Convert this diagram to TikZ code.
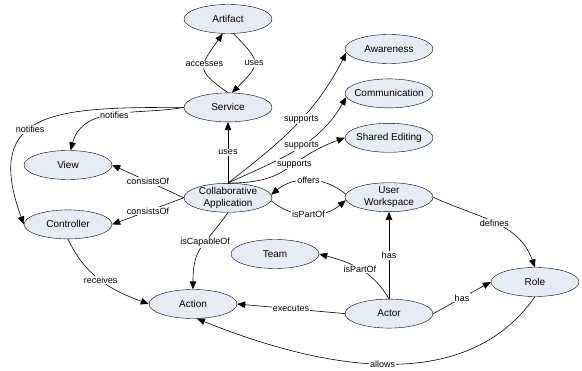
\documentclass[tikz,border=0pt]{standalone}
\usepackage{fontspec}
\setmainfont{Liberation Sans}
\usepackage{tikz}
\usetikzlibrary{arrows.meta, positioning, shapes.geometric}
\definecolor{conceptfill}{RGB}{230,236,247}

\begin{document}
\begin{tikzpicture}[
    x=1pt, y=1pt,
    concept/.style={draw, ellipse, fill=conceptfill, minimum width=88pt, minimum height=29pt, inner xsep=-4pt, inner ysep=-1pt, align=center, font=\fontsize{10}{12}\selectfont},
    rel/.style={fill=white, inner sep=1pt, font=\fontsize{9}{10}\selectfont},
    arrow/.style={-{Triangle[length=8pt, width=6.5pt]}, line width=0.6pt}
]
    \useasboundingbox (0,0) rectangle (582,-371);

    \node[concept] (artifact) at (228,-19) {Artifact};
    \node[concept, below=59pt of artifact] (service) {Service};
    \node[concept, below=61pt of service] (collab) {Collaborative\\Application};
    \node[concept] (view) at (68,-165) {View};
    \node[concept, below=30pt of view] (controller) {Controller};
    \node[concept] (action) at (193,-304) {Action};
    \node[concept] (team) at (275,-254) {Team};
    \node[concept] (awareness) at (389,-49) {Awareness};
    \node[concept, below=15pt of awareness] (communication) {Communication};
    \node[concept, below=15pt of communication] (shared) {Shared Editing};
    \node[concept, below=30pt of shared] (workspace) {User\\Workspace};
    \node[concept, below=87pt of workspace] (actor) {Actor};
    \node[concept] (role) at (535,-282) {Role};

    \draw[arrow] (service.north) to[out=145, in=235, looseness=1.75] node[rel, pos=0.55] {accesses} (artifact.250);
    \draw[arrow] (artifact.290) to[out=-45, in=45, looseness=1.75] node[rel] {uses} (service.75);
    \draw[arrow] (service.west) to[out=190, in=75] node[rel] {notifies} (view.80);
    \draw[arrow] (service.west) to[out=180, in=110, looseness=1.6] node[rel, pos=0.57] {notifies} (controller.west);
    \draw[arrow] (collab) -- node[rel] {uses} (service);
    \draw[arrow] (collab.north) to[out=38, in=243] node[rel, pos=0.55] {supports} (awareness.185);
    \draw[arrow] (collab.north) to[out=25, in=240] node[rel, pos=0.55] {supports} (communication.185);
    \draw[arrow] (collab.north) to[out=0, in=200, looseness=1.3] node[rel, pos=0.58] {supports} (shared.west);
    \draw[arrow] (collab.west) -- node[rel] {consistsOf} (view.east);
    \draw[arrow] (collab.west) -- node[rel] {consistsOf} (controller.east);
    \draw[arrow] (collab.south) to[out=235, in=90, looseness=1.3] node[rel, pos=0.4] {isCapableOf} (action.north);
    \draw[arrow] (workspace.176) to[out=140, in=40] node[rel] {offers} (collab.4);
    \draw[arrow] (collab.-4) to[out=-40, in=-140] node[rel] {isPartOf} (workspace.184);
    \draw[arrow] (workspace.east) to[out=-25, in=110] node[rel] {defines} (role.north);
    \draw[arrow] (actor) -- node[rel] {has} (workspace);
    \draw[arrow] (actor.north) to[out=120, in=-15] node[rel] {isPartOf} (team.east);
    \draw[arrow] (actor.west) -- node[rel] {executes} (action.east);
    \draw[arrow] (actor.east) -- node[rel] {has} (role.west);
    \draw[arrow] (role.south) to[out=-125, in=-22, looseness=0.95] node[rel] {allows} (action.-75);
    \draw[arrow] (controller.south) to[out=-65, in=160] node[rel] {receives} (action.west);
\end{tikzpicture}
\end{document}
